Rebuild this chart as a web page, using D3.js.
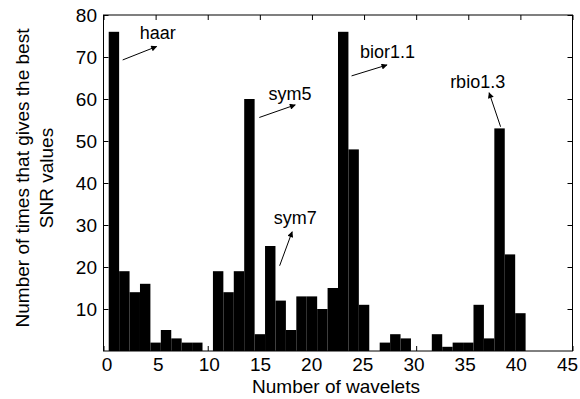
<!DOCTYPE html>
<html>
<head>
<meta charset="utf-8">
<script src="https://cdn.jsdelivr.net/npm/d3@7"></script>
<style>
  body { margin: 0; background: #fff; }
  text { font-family: "Liberation Sans", Arial, sans-serif; }
</style>
</head>
<body>
<svg id="chart" width="580" height="399"></svg>
<script>
// wavelet index 1..40 and how often each gave the best SNR
const wavelets = d3.range(1, 41);
const counts = [76, 19, 14, 16, 2, 5, 3, 2, 2, 0,
                19, 14, 19, 60, 4, 25, 12, 5, 13, 13,
                10, 15, 76, 48, 11, 0, 2, 4, 3, 0,
                0, 4, 1, 2, 2, 11, 3, 53, 23, 9];
const xTicks = [0, 5, 10, 15, 20, 25, 30, 35, 40, 45];
const yTicks = [10, 20, 30, 40, 50, 60, 70, 80];

// labels: text position, arrow tail, arrow head (data units)
const labels = ['haar', 'sym5', 'bior1.1', 'sym7', 'rbio1.3'];
const labelPos = [[5.2, 74.3], [17.9, 59.8], [27.25, 69.8], [18.4, 30.2], [35.9, 62.6]];
const arrowFrom = [[1.84, 69.3], [14.95, 55.6], [23.8, 65.5], [16.9, 20.3], [38.1, 53.4]];
const arrowTo = [[5.1, 72.5], [18.4, 58.6], [27.2, 68.1], [18.1, 28.4], [37.0, 61.5]];

const svg = d3.select('#chart');
const margin = {top: 15, right: 7.5, bottom: 48, left: 103.5};
const width = 580 - margin.left - margin.right,
      height = 399 - margin.top - margin.bottom;

const g = svg.append('g').attr('transform', `translate(${margin.left},${margin.top})`);

const x = d3.scaleLinear().domain([0, 45]).range([0, width]);
const y = d3.scaleLinear().domain([0, 80]).range([height, 0]);

// bars
g.selectAll('rect.bar')
  .data(wavelets)
  .enter().append('rect')
  .attr('class', 'bar')
  .attr('x', d => x(d - 0.5))
  .attr('width', x(1) - x(0))
  .attr('y', (d, i) => y(counts[i]))
  .attr('height', (d, i) => y(0) - y(counts[i]))
  .attr('fill', '#000');

// axes, ticks pointing inward
const fs = '19px';
const axBottom = g.append('g').attr('transform', `translate(0,${height})`)
  .call(d3.axisBottom(x).tickValues(xTicks).tickSizeInner(-5).tickSizeOuter(0).tickPadding(7));
const axTop = g.append('g')
  .call(d3.axisTop(x).tickValues(xTicks).tickSizeInner(-5).tickSizeOuter(0).tickFormat(''));
const axLeft = g.append('g')
  .call(d3.axisLeft(y).tickValues(yTicks).tickSizeInner(-5).tickSizeOuter(0).tickPadding(6.5));
const axRight = g.append('g').attr('transform', `translate(${width},0)`)
  .call(d3.axisRight(y).tickValues(yTicks).tickSizeInner(-5).tickSizeOuter(0).tickFormat(''));

[axBottom, axTop, axLeft, axRight].forEach(a => {
  a.select('.domain').remove();
  a.selectAll('line').attr('stroke', '#000');
  a.selectAll('text').attr('font-size', fs).attr('fill', '#000')
    .attr('font-family', '"Liberation Sans", Arial, sans-serif');
});
// the x labels sit slightly tighter than the ticks in the original
axBottom.selectAll('.tick text').attr('dx', d => 3 - d * 0.19);

// frame
g.append('rect').attr('width', width).attr('height', height)
  .attr('fill', 'none').attr('stroke', '#000').attr('stroke-width', 1);

// axis titles
svg.append('text')
  .attr('x', margin.left + x(22.5) - 2).attr('y', 393)
  .attr('text-anchor', 'middle').attr('font-size', fs)
  .text('Number of wavelets');

const yl = svg.append('text')
  .attr('transform', 'translate(29,178) rotate(-90)')
  .attr('text-anchor', 'middle').attr('font-size', fs);
yl.append('tspan').attr('x', 0).attr('dy', 0).text('Number of times that gives the best');
yl.append('tspan').attr('x', 0).attr('dy', 24).text('SNR values');

// arrow head
svg.append('defs').append('marker')
  .attr('id', 'head').attr('viewBox', '0 0 10 10')
  .attr('refX', 9).attr('refY', 5)
  .attr('markerWidth', 9).attr('markerHeight', 6)
  .attr('markerUnits', 'userSpaceOnUse')
  .attr('orient', 'auto')
  .append('path').attr('d', 'M0,0L10,5L0,10z').attr('fill', '#000');

// annotations
labels.forEach((name, i) => {
  g.append('line')
    .attr('x1', x(arrowFrom[i][0])).attr('y1', y(arrowFrom[i][1]))
    .attr('x2', x(arrowTo[i][0])).attr('y2', y(arrowTo[i][1]))
    .attr('stroke', '#000').attr('stroke-width', 1)
    .attr('marker-end', 'url(#head)');
  g.append('text')
    .attr('x', x(labelPos[i][0])).attr('y', y(labelPos[i][1]))
    .attr('text-anchor', 'middle').attr('font-size', '18px')
    .text(name);
});
</script>
</body>
</html>
